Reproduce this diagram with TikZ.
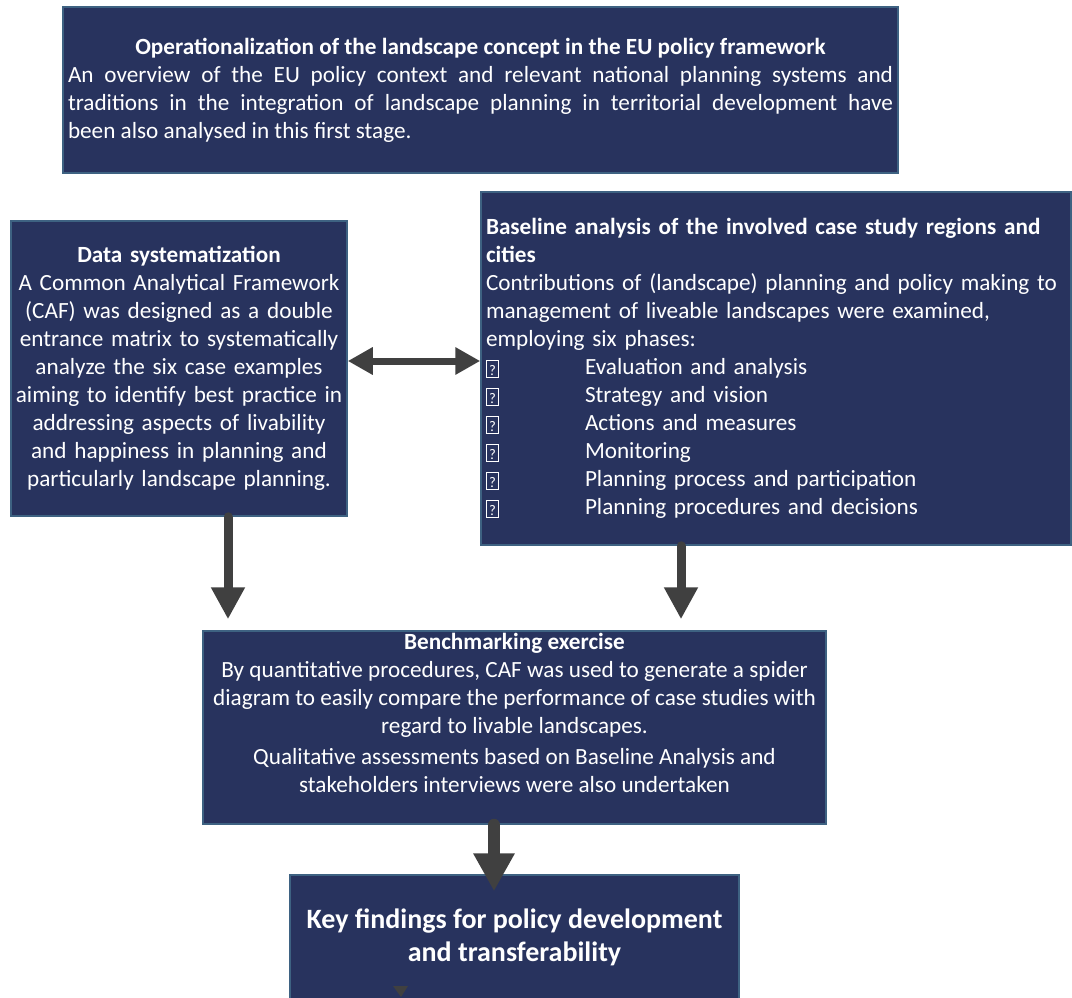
\documentclass[tikz,border=0pt]{standalone}
\usepackage{fontspec}
\setmainfont{Carlito}
\usetikzlibrary{arrows.meta}
\newlength\px
\setlength\px{0.75pt}
\definecolor{navy}{RGB}{40,51,94}
\definecolor{edgeblue}{RGB}{62,98,130}
\definecolor{arrowgray}{RGB}{64,64,64}
\newcommand\nochar{{\setlength\fboxsep{0.8pt}\setlength\fboxrule{0.6pt}\raisebox{-1pt}{\fbox{\rule{0pt}{10.4pt}\makebox[7pt]{\fontsize{11}{11}\selectfont ?}}}}}
\newcommand\phase[1]{\makebox[99\px][l]{\nochar}#1}

\begin{document}
\begin{tikzpicture}[x=0.75pt,y=-0.75pt]
			\tikzstyle{stage}=[rectangle,draw=edgeblue,line width=1.5\px,fill=navy,text=white,inner sep=0pt,font=\fontsize{17.4}{21}\selectfont]
			\tikzstyle{flow}=[draw=arrowgray,line width=6.75pt,line cap=round,-{Triangle[width=24pt,length=24pt]}]
			\useasboundingbox (0,0) rectangle (1072,997);

			\node[stage,minimum width=835\px,minimum height=166\px,text width=825\px,align=justify] (policy) at (480.5,90)
				{{\centering\bfseries Operationalization of the landscape concept in the EU policy framework\par}An overview of the EU policy context and relevant national planning systems and\linebreak traditions in the integration of landscape planning in territorial development have\linebreak been also analysed in this first stage.};
			\node[stage,minimum width=336\px,minimum height=295\px,text width=330\px,align=center] (data) at (179,368.5)
				{\textbf{Data systematization}\\ A Common Analytical Framework\\ (CAF) was designed as a double\\ entrance matrix to systematically\\ analyze the six case examples\\ aiming to identify best practice in\\ addressing aspects of livability\\ and happiness in planning and\\ particularly landscape planning.};
			\node[stage,minimum width=590\px,minimum height=353\px,text width=580\px,align=left] (baseline) at (776,368.5)
				{\textbf{Baseline analysis of the involved case study regions and}\\ \textbf{cities}\\ Contributions of (landscape) planning and policy making to\\ management of liveable landscapes were examined,\\ employing six phases:\\
				\phase{Evaluation and analysis}\\ \phase{Strategy and vision}\\ \phase{Actions and measures}\\ \phase{Monitoring}\\ \phase{Planning process and participation}\\ \phase{Planning procedures and decisions}};
			\node[stage,minimum width=623\px,minimum height=193\px] (bench) at (514.5,727.5) {};
			\node[text=white,align=center,inner sep=0pt,font=\fontsize{17.4}{21}\selectfont] (benchtext) at (514.5,713)
				{\textbf{Benchmarking exercise}\\ By quantitative procedures, CAF was used to generate a spider\\ diagram to easily compare the performance of case studies with\\ regard to livable landscapes.\\[2pt] Qualitative assessments based on Baseline Analysis and\\ stakeholders interviews were also undertaken};
			\node[stage,minimum width=449\px,minimum height=125\px,align=center,font=\fontsize{21}{24.75}\selectfont\bfseries] (findings) at (514.5,937.5)
				{Key findings for policy development\\ and transferability};

			\draw[flow] ([xshift=49\px]data.south) -- ([xshift=-286.5\px,yshift=11\px]bench.north);
			\draw[flow] ([xshift=-95\px]baseline.south) -- ([xshift=166.5\px,yshift=11\px]bench.north);
			\draw[flow,line width=9pt,-{Triangle[width=29.25pt,length=28.5pt]}] ([xshift=-20.5\px]bench.south) -- ([xshift=-20.5\px,yshift=-17\px]findings.north);
			\draw[flow,line width=5.25pt,{Triangle[width=19.5pt,length=18.75pt]}-{Triangle[width=19.5pt,length=18.75pt]}] ([yshift=7.5\px]data.east) -- ([yshift=7.5\px]baseline.west);
			\fill[arrowgray] (393,986) -- (408,986) -- (401,997) -- cycle;
\end{tikzpicture}
\end{document}
